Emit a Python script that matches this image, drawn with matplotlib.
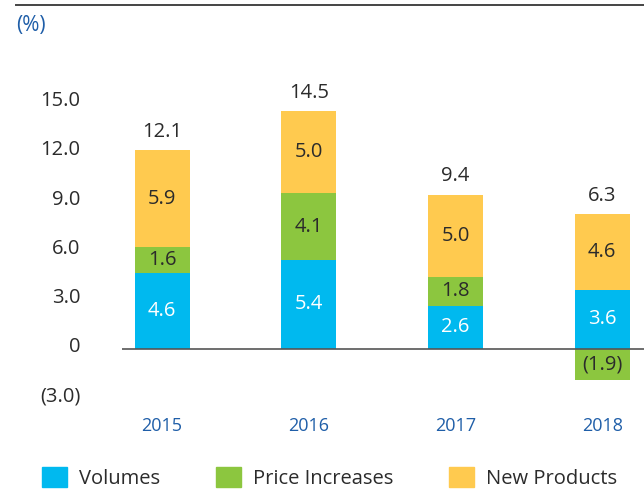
import matplotlib

matplotlib.use("Agg")
import matplotlib.pyplot as plt
import matplotlib.transforms as mtransforms
import numpy as np
from matplotlib.lines import Line2D
from matplotlib.patches import Patch

# data
years = ["2015", "2016", "2017", "2018"]
volumes = [4.6, 5.4, 2.6, 3.6]
price_increases = [1.6, 4.1, 1.8, -1.9]
new_products = [5.9, 5.0, 5.0, 4.6]
totals = [12.1, 14.5, 9.4, 6.3]
y_ticks = [-3.0, 0.0, 3.0, 6.0, 9.0, 12.0, 15.0]
series_names = ["Volumes", "Price Increases", "New Products"]

C_VOL = "#00B9EF"
C_PRICE = "#8CC63F"
C_NEW = "#FFCA4F"
C_TEXT = "#2B2B2B"
C_BLUE = "#1F5EA8"


def fmt(v):
    """Finance style: negatives in parentheses, zero as plain 0."""
    if v < 0:
        return f"({abs(v):.1f})"
    if v == 0:
        return "0"
    return f"{v:.1f}"


plt.rcParams["font.family"] = ["Open Sans", "DejaVu Sans"]

W, H = 644, 490
fig = plt.figure(figsize=(W / 100, H / 100), dpi=100)
ax = fig.add_axes([122 / W, 84 / H, (W - 122) / W, 344 / H])

x = np.arange(len(years))
width = 0.375

vol = np.array(volumes)
price = np.array(price_increases)
new = np.array(new_products)
price_bottom = np.where(price >= 0, vol, 0.0)
new_bottom = vol + np.clip(price, 0, None)

ax.bar(x, vol, width, color=C_VOL, zorder=2)
ax.bar(x, price, width, bottom=price_bottom, color=C_PRICE, zorder=2)
ax.bar(x, new, width, bottom=new_bottom, color=C_NEW, zorder=2)

fs = 14.5
for i in range(len(years)):
    ax.text(x[i], vol[i] / 2, fmt(vol[i]), ha="center", va="center",
            color="white", fontsize=fs, zorder=3)
    ax.text(x[i], price_bottom[i] + price[i] / 2, fmt(price[i]), ha="center",
            va="center", color=C_TEXT, fontsize=fs, zorder=3)
    ax.text(x[i], new_bottom[i] + new[i] / 2, fmt(new[i]), ha="center",
            va="center", color=C_TEXT, fontsize=fs, zorder=3)
    ax.annotate(fmt(totals[i]), (x[i], new_bottom[i] + new[i]),
                xytext=(0, 6), textcoords="offset points", ha="center",
                va="bottom", color=C_TEXT, fontsize=fs)

ax.axhline(0, color="#555555", lw=1.2, zorder=4)

ax.set_xlim(-0.273, 3.285)
ax.set_ylim(-3.5, 17.5)
ax.set_xticks(x)
ax.set_xticklabels(years, color=C_BLUE, fontsize=13, fontweight="medium")
ax.set_yticks(y_ticks)
ax.set_yticklabels([fmt(v) for v in y_ticks], color=C_TEXT, fontsize=fs)
ax.tick_params(axis="both", length=0)
ax.tick_params(axis="y", pad=30)
ax.tick_params(axis="x", pad=8)
for lab in ax.get_yticklabels():
    lab.set_transform(lab.get_transform()
                      + mtransforms.ScaledTranslation(0, 3 / 72, fig.dpi_scale_trans))
for s in ax.spines.values():
    s.set_visible(False)

# rule across the top and the unit label
fig.add_artist(Line2D([16 / W, 1], [1 - 5 / H] * 2, color="#444444", lw=1.4))
fig.text(16 / W, 1 - 25 / H, "(%)", color=C_BLUE, fontsize=15, va="center")

handles = [Patch(color=c) for c in (C_VOL, C_PRICE, C_NEW)]
fig.legend(handles, series_names, loc="center left",
           bbox_to_anchor=(42 / W, 1 - 478 / H), ncol=3, frameon=False,
           fontsize=fs, handlelength=1.25, handleheight=1.1,
           handletextpad=0.6, columnspacing=2.75, borderpad=0,
           borderaxespad=0, labelcolor=C_TEXT)

fig.savefig("out.png", dpi=100)
